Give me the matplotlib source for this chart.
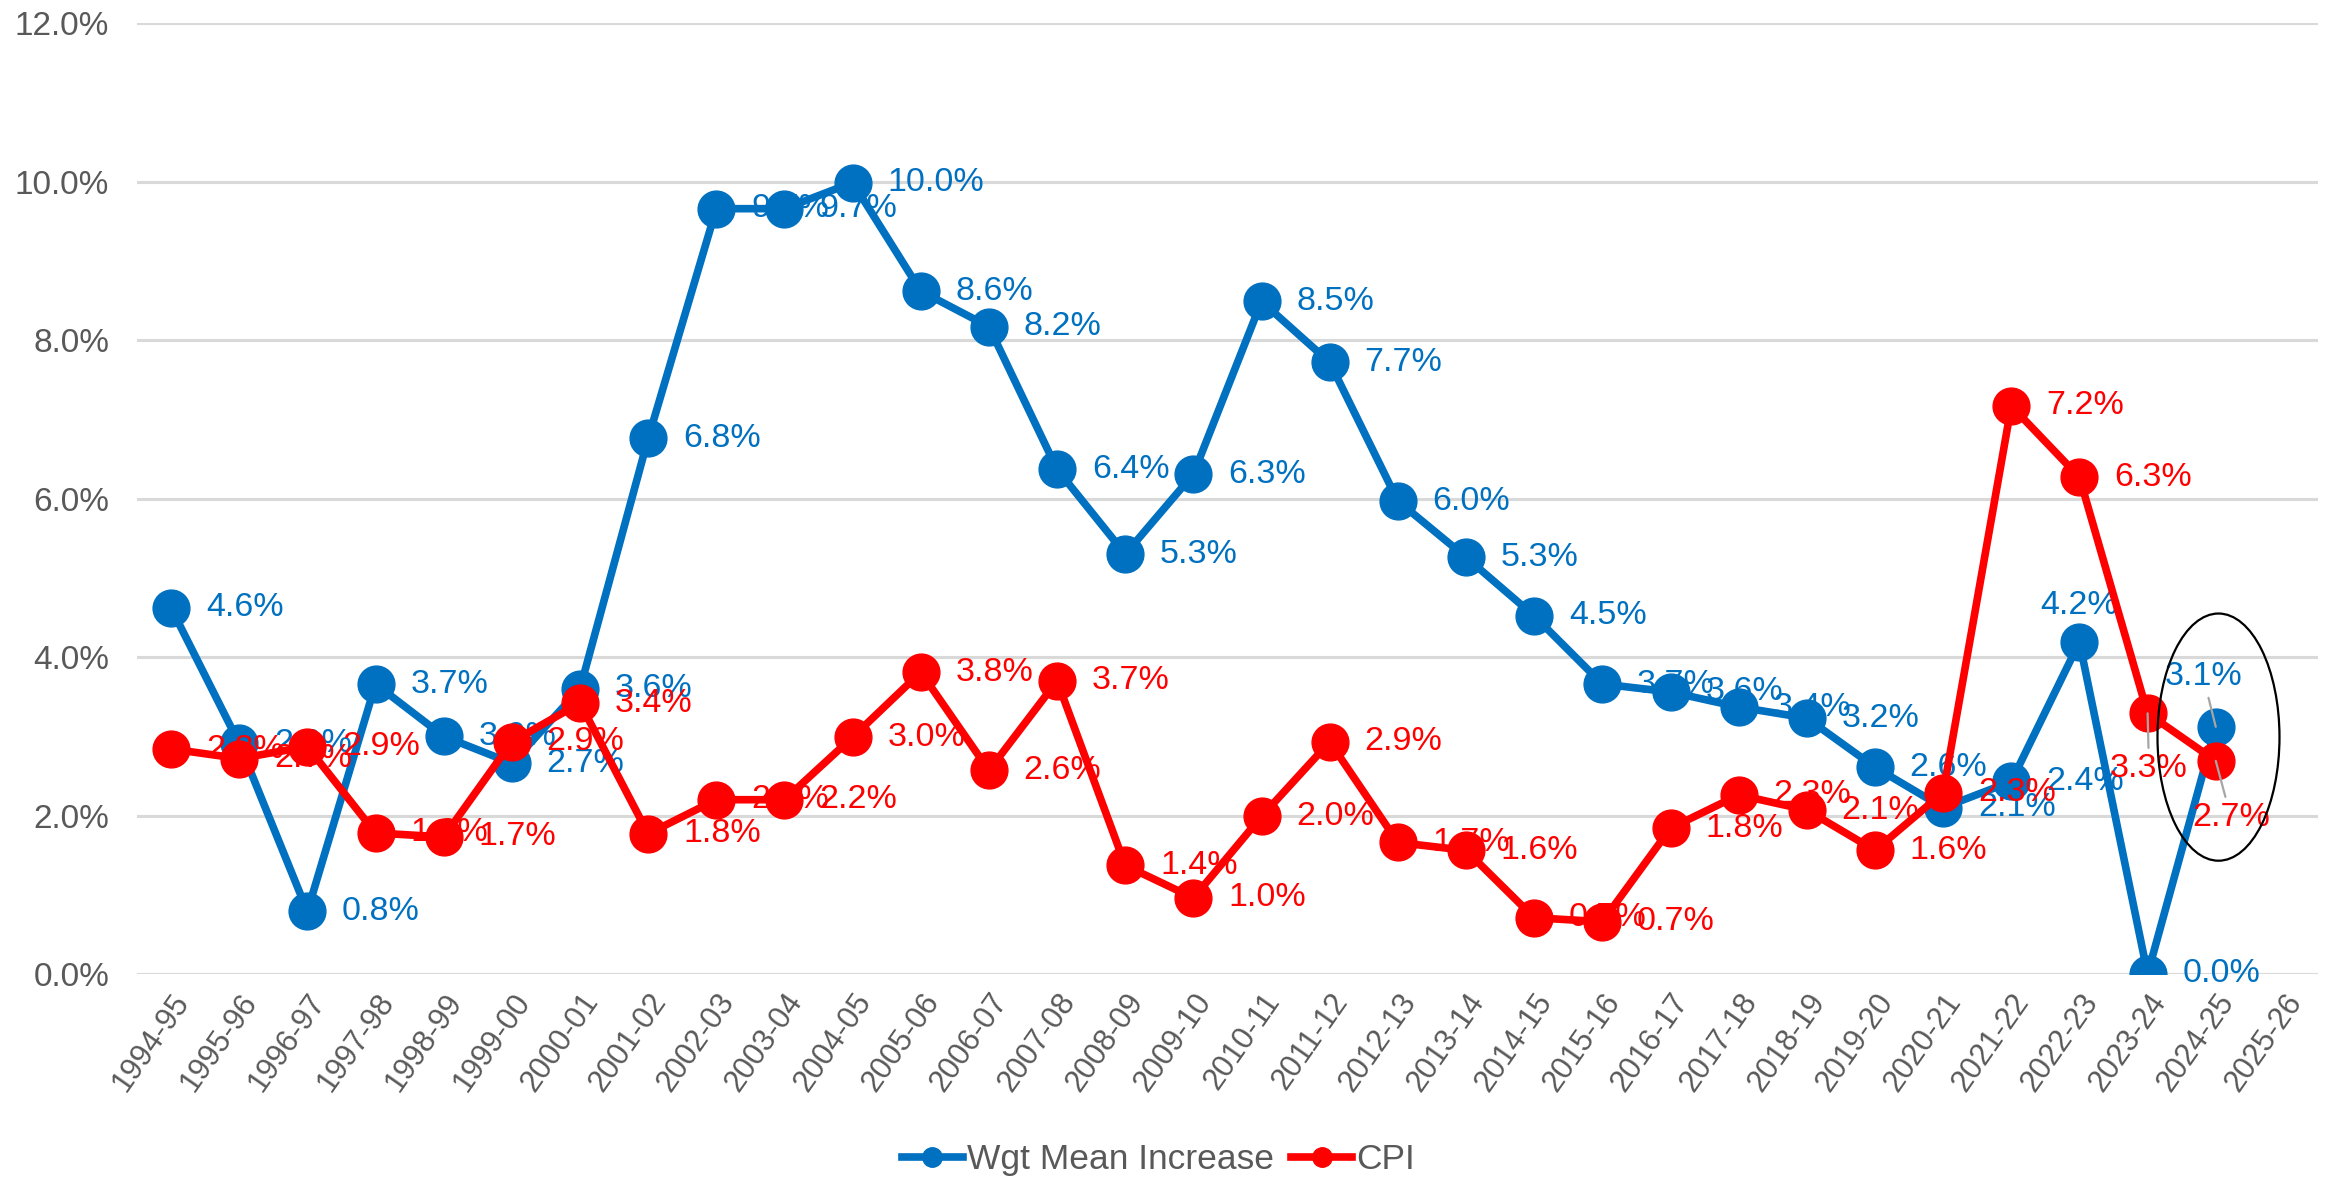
import matplotlib
matplotlib.use("Agg")
import matplotlib.pyplot as plt
from matplotlib.patches import Ellipse

# ---------------- data ----------------
periods = ['1994-95', '1995-96', '1996-97', '1997-98', '1998-99', '1999-00',
           '2000-01', '2001-02', '2002-03', '2003-04', '2004-05', '2005-06',
           '2006-07', '2007-08', '2008-09', '2009-10', '2010-11', '2011-12',
           '2012-13', '2013-14', '2014-15', '2015-16', '2016-17', '2017-18',
           '2018-19', '2019-20', '2020-21', '2021-22', '2022-23', '2023-24',
           '2024-25', '2025-26']

wgt_mean = [4.62, 2.91, 0.79, 3.66, 3.00, 2.66, 3.60, 6.76, 9.66, 9.66,
            9.99, 8.62, 8.17, 6.37, 5.30, 6.31, 8.49, 7.72, 5.97, 5.26,
            4.52, 3.66, 3.56, 3.37, 3.23, 2.61, 2.10, 2.43, 4.19, 0.00,
            3.12]

cpi = [2.84, 2.72, 2.87, 1.78, 1.73, 2.93, 3.42, 1.77, 2.20, 2.20,
       2.99, 3.81, 2.57, 3.70, 1.37, 0.96, 1.99, 2.93, 1.66, 1.56,
       0.71, 0.66, 1.84, 2.26, 2.07, 1.56, 2.29, 7.17, 6.27, 3.29,
       2.69]

y_ticks = [0.0, 2.0, 4.0, 6.0, 8.0, 10.0, 12.0]

series_names = ['Wgt Mean Increase', 'CPI']

# ---------------- style ----------------
BLUE = '#0070C0'
RED = '#FF0000'
GREY_TXT = '#595959'
GRID = '#D9D9D9'
FONT = ['Liberation Sans', 'DejaVu Sans']
plt.rcParams['font.family'] = FONT

W, H, DPI = 2331, 1180, 100
fig = plt.figure(figsize=(W / DPI, H / DPI), dpi=DPI)
ax = fig.add_axes([137 / W, 1 - 974 / H, (2318 - 137) / W, (974 - 23.3) / H])

x_all = list(range(len(periods)))
xb = x_all[:len(wgt_mean)]
xr = x_all[:len(cpi)]
yb = [v / 100 for v in wgt_mean]
yr = [v / 100 for v in cpi]

LW = 5.5
MS = 26.5
ax.plot(xb, yb, color=BLUE, lw=LW, marker='o', ms=MS, zorder=3,
        label=series_names[0], solid_joinstyle='round')
ax.plot(xr, yr, color=RED, lw=LW, marker='o', ms=MS, zorder=5,
        label=series_names[1], solid_joinstyle='round')

# data labels
LBL_FS = 24.5
default_off = (25, 0)
blue_special = {28: ((0, 26), 'center'),
                30: ((-9, 36), 'leader')}
red_special = {29: ((1, -40), 'leader'),
               30: ((11, -41), 'leader')}


def add_labels(xs, ys, vals, color, special, z):
    for xi, yi, v in zip(xs, ys, vals):
        txt = f"{v:.1f}%"
        if xi in special:
            off, kind = special[xi]
            if kind == 'leader':
                ax.annotate(txt, (xi, yi), xytext=off, textcoords='offset points',
                            ha='center', va='center', color=color, fontsize=LBL_FS,
                            zorder=6,
                            arrowprops=dict(arrowstyle='-', color='#A6A6A6', lw=1.6,
                                            shrinkA=2, shrinkB=0))
            else:
                ax.annotate(txt, (xi, yi), xytext=off, textcoords='offset points',
                            ha='center', va='center', color=color, fontsize=LBL_FS,
                            zorder=z)
        else:
            ax.annotate(txt, (xi, yi), xytext=default_off, textcoords='offset points',
                        ha='left', va='center', color=color, fontsize=LBL_FS,
                        zorder=z)


add_labels(xb, yb, wgt_mean, BLUE, blue_special, 2)
add_labels(xr, yr, cpi, RED, red_special, 4)

# axes formatting
ax.set_xlim(-0.5, len(periods) - 0.5)
ax.set_ylim(0, 0.12)
ax.set_yticks([t / 100 for t in y_ticks])
ax.set_yticklabels([f"{t:.1f}%" for t in y_ticks], fontsize=24, color=GREY_TXT)
ax.set_xticks(x_all)
ax.set_xticklabels(periods, rotation=55, ha='right', va='top',
                   rotation_mode='anchor', fontsize=22, color=GREY_TXT)
ax.tick_params(axis='x', length=0, pad=10)
ax.tick_params(axis='y', length=0, pad=20)
ax.grid(axis='y', color=GRID, lw=2.2, zorder=0)
ax.set_axisbelow(True)
for s in ax.spines.values():
    s.set_visible(False)

# highlight ellipse around latest values
ell = Ellipse((30.04, 0.0299), width=1.79, height=0.0312, fill=False,
              edgecolor='black', lw=1.6, zorder=7, clip_on=False)
ax.add_patch(ell)

# legend
leg = fig.legend(loc='center', bbox_to_anchor=(0.497, 0.017), ncol=2,
                 frameon=False, fontsize=25.5, handlelength=1.7,
                 handletextpad=0.12, columnspacing=0.5, labelcolor=GREY_TXT)
for h in leg.legend_handles:
    h.set_markersize(14)

fig.savefig('out.png', dpi=DPI)
